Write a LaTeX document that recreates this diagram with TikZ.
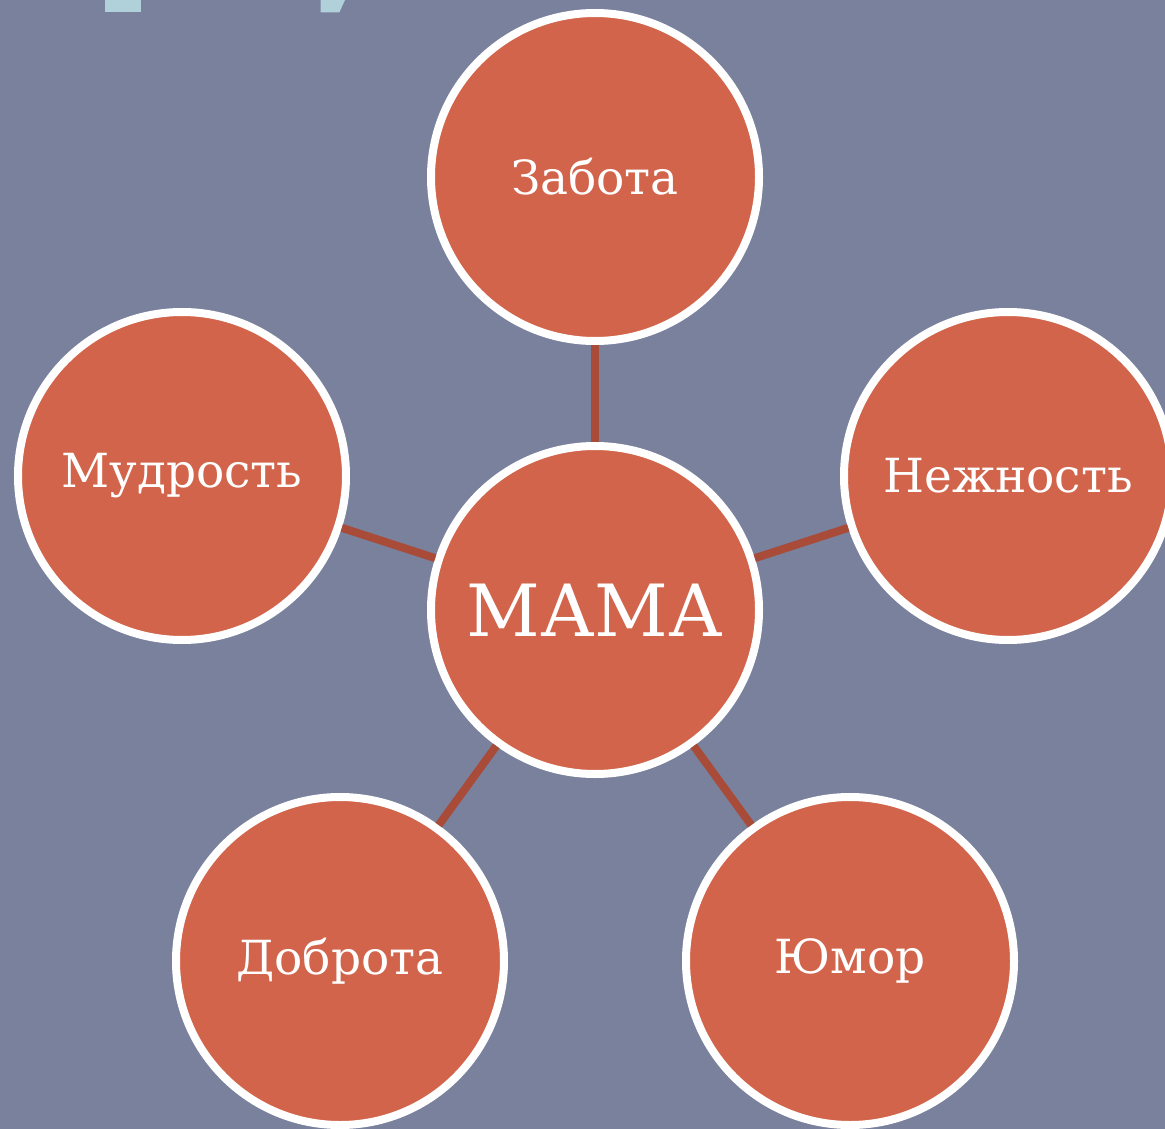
\documentclass[tikz,border=0pt]{standalone}
\usepackage{fontspec}
\setmainfont{DejaVu Serif}
\definecolor{slateBack}{HTML}{7A819D}
\definecolor{brickFill}{HTML}{D1644A}
\definecolor{rustLine}{HTML}{A84C39}
\definecolor{paleTitle}{HTML}{B0D0DA}
\begin{document}
\begin{tikzpicture}[x=1pt, y=-1pt,
    bubble/.style={circle, draw=white, line width=8pt, fill=brickFill,
        minimum size=328pt, inner sep=0pt, text=white, font=\fontsize{47}{52}\selectfont},
    link/.style={draw=rustLine, line width=8pt}]

        % background and clipping
        \fill[slateBack] (0,0) rectangle (1165,1129);
        \clip (0,0) rectangle (1165,1129);

        % cut-off title pieces
        \fill[paleTitle] (105,0) rectangle (141,12.5);
        \fill[paleTitle] (320.7,0) -- (345,0) -- (339.3,12.5) -- (320.7,12.5) -- cycle;

        % centre
        \node[bubble, font=\fontsize{72}{80}\selectfont] (mama) at (595,610) {МАМА};

        % outer circles
        \node[bubble] (zabota) at (595,177) {Забота};
        \node[bubble] (nezhnost) at (1008,476) {Нежность};
        \node[bubble] (yumor) at (850,961) {Юмор};
        \node[bubble] (dobrota) at (340,961) {Доброта};
        \node[bubble] (mudrost) at (182,476) {Мудрость};

        % links
        \draw[link] (mama) -- (zabota);
        \draw[link] (mama) -- (nezhnost);
        \draw[link] (mama) -- (yumor);
        \draw[link] (mama) -- (dobrota);
        \draw[link] (mama) -- (mudrost);

    \end{tikzpicture}
\end{document}
